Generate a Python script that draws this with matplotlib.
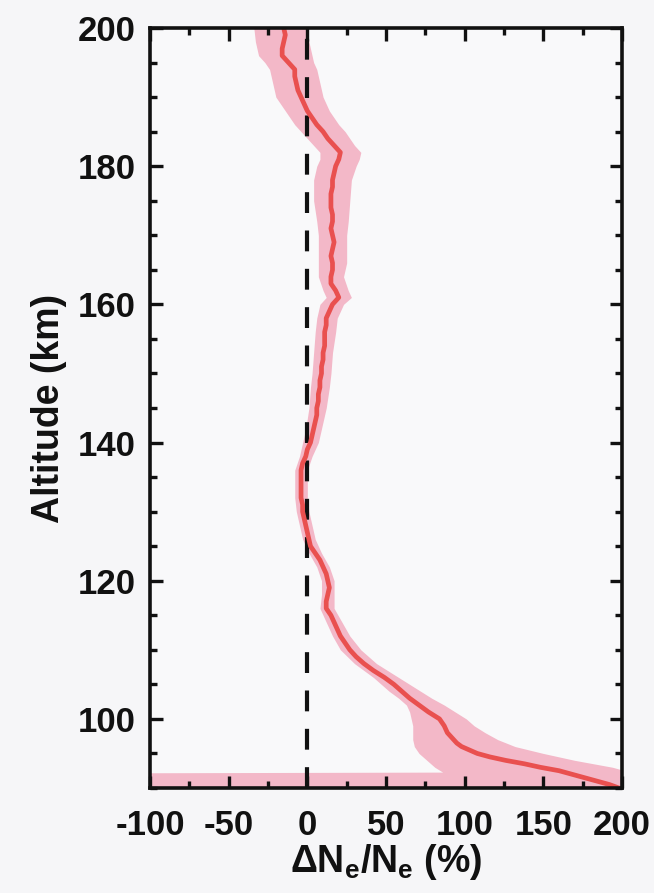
import matplotlib
matplotlib.use("Agg")
import matplotlib.pyplot as plt
from matplotlib.ticker import MultipleLocator

# ---- data ----
altitude = [90, 90.5, 91, 91.5, 92, 92.5, 93, 93.5, 94, 94.5, 95, 95.5, 96, 96.5, 97, 97.5,
            98, 99, 100, 101, 102, 103, 104, 105, 106, 107, 108, 109, 110, 111, 112, 113,
            114, 115, 116, 117, 118, 119, 120, 121, 122, 123, 124, 125, 126, 127, 128, 129,
            130, 131, 132, 133, 134, 135, 136, 137, 138, 139, 140, 141, 142, 143, 144, 145,
            146, 147, 148, 149, 150, 151, 152, 153, 154, 155, 156, 157, 158, 159, 160, 161,
            162, 163, 164, 165, 166, 167, 168, 169, 170, 171, 172, 173, 174, 175, 176, 177,
            178, 179, 180, 181, 182, 183, 184, 185, 186, 187, 188, 189, 190, 191, 192, 193,
            194, 195, 196, 197, 198, 199, 200]
mean_dne = [198, 192, 184, 176, 168, 160, 148, 138, 126, 116, 108, 103, 98, 95, 93, 91,
            89, 87, 84, 77, 71, 65, 60, 55, 49, 42, 36, 31, 27, 24, 21, 19,
            17, 15, 12, 12, 13, 14, 13, 12, 10, 8, 5, 2, 1, 0, -1, -2,
            -3, -3, -4, -4, -4, -4, -4, -3, -1, 0, 2, 3, 4, 5, 6, 6,
            7, 7, 8, 8, 9, 9, 10, 10, 11, 11, 11, 12, 12, 14, 16, 20,
            18, 15, 15, 16, 16, 15, 16, 17, 16, 15, 16, 16, 15, 15, 15, 16,
            16, 17, 18, 20, 21, 17, 13, 10, 6, 3, 0, -2, -4, -6, -7, -8,
            -8, -12, -16, -16, -15, -14, -15]

band_alt = [90, 91, 92.2, 92.3, 93, 94, 95, 96, 97, 98, 99, 100, 101, 102, 103, 104,
            105, 106, 108, 110, 112, 114, 116, 118, 120, 122, 124, 126, 128, 130, 132, 134,
            136, 138, 140, 142, 145, 148, 150, 153, 156, 158, 160, 161, 162, 164, 166, 168,
            170, 172, 175, 178, 180, 181, 182, 183, 184, 185, 186, 188, 190, 192, 194, 195,
            196, 198, 200]
band_lo = [-110, -110, -110, 86, 81, 76, 71, 68, 67, 67, 67, 66, 65, 63, 58, 52,
           47, 42, 30, 21, 16, 12, 8, 9, 9, 6, 1, -3, -5, -7, -8, -8,
           -8, -5, -3, -1, 1, 2, 3, 4, 5, 6, 8, 12, 10, 7, 7, 7,
           7, 6, 4, 4, 6, 8, 8, 4, 0, -4, -8, -14, -20, -22, -24, -27,
           -31, -33, -34]
band_hi = [215, 212, 205, 205, 194, 170, 150, 132, 121, 113, 106, 101, 94, 87, 79, 72,
           65, 58, 44, 34, 27, 22, 17, 17, 17, 14, 9, 5, 3, 1, 0, 0,
           0, 3, 7, 9, 12, 14, 15, 16, 18, 19, 23, 28, 26, 23, 25, 25,
           25, 26, 27, 28, 31, 33, 34, 30, 27, 24, 20, 14, 10, 8, 6, 4,
           3, 1, 0]

x_ticks = [-100, -50, 0, 50, 100, 150, 200]
y_ticks = [100, 120, 140, 160, 180, 200]

# ---- style ----
plt.rcParams['font.family'] = ['Liberation Sans', 'DejaVu Sans']
plt.rcParams['font.weight'] = 'bold'
plt.rcParams['mathtext.fontset'] = 'custom'
plt.rcParams['mathtext.rm'] = 'Liberation Sans:bold'
plt.rcParams['mathtext.it'] = 'Liberation Sans:bold'
plt.rcParams['mathtext.bf'] = 'Liberation Sans:bold'

bg = '#f6f6f8'
fig = plt.figure(figsize=(6.54, 8.93), dpi=100, facecolor=bg)
ax = fig.add_axes([150 / 654, 1 - 788 / 893, (622 - 150) / 654, (788 - 28) / 893])
ax.set_facecolor('#f9f9fa')

ax.fill_betweenx(band_alt, band_lo, band_hi, color='#f3b8c8', lw=0, zorder=1)
ax.axvline(0, color='#111111', lw=3.0, linestyle=(0, (5.0, 4.2)), zorder=2)
ax.plot(mean_dne, altitude, color='#e9504f', lw=3.4, zorder=3, solid_joinstyle='round')

ax.set_xlim(-100, 200)
ax.set_ylim(90, 200)
ax.set_xticks(x_ticks)
ax.set_xticklabels([str(v) for v in x_ticks])
ax.set_yticks(y_ticks)
ax.set_yticklabels([str(v) for v in y_ticks])
ax.xaxis.set_minor_locator(MultipleLocator(25))
ax.yaxis.set_minor_locator(MultipleLocator(5))

for s in ax.spines.values():
    s.set_linewidth(2.6)
    s.set_color('#111111')
    s.set_zorder(5)

ax.tick_params(which='both', direction='in', top=True, right=True, color='#111111',
               width=2.4)
ax.tick_params(which='major', length=9)
ax.tick_params(which='minor', length=5)
ax.tick_params(axis='x', which='major', labelsize=25, pad=15)
ax.tick_params(axis='y', which='major', labelsize=25, pad=10)
for lab in ax.get_xticklabels() + ax.get_yticklabels():
    lab.set_fontweight('bold')
    lab.set_color('#111111')

ax.set_xlabel(r'ΔN$_\mathrm{e}$/N$_\mathrm{e}$ (%)', fontsize=27, fontweight='bold',
              color='#111111', labelpad=0)
ax.set_ylabel('Altitude (km)', fontsize=27, fontweight='bold', color='#111111',
              labelpad=8)

fig.savefig('out.png', dpi=100, facecolor=bg)
